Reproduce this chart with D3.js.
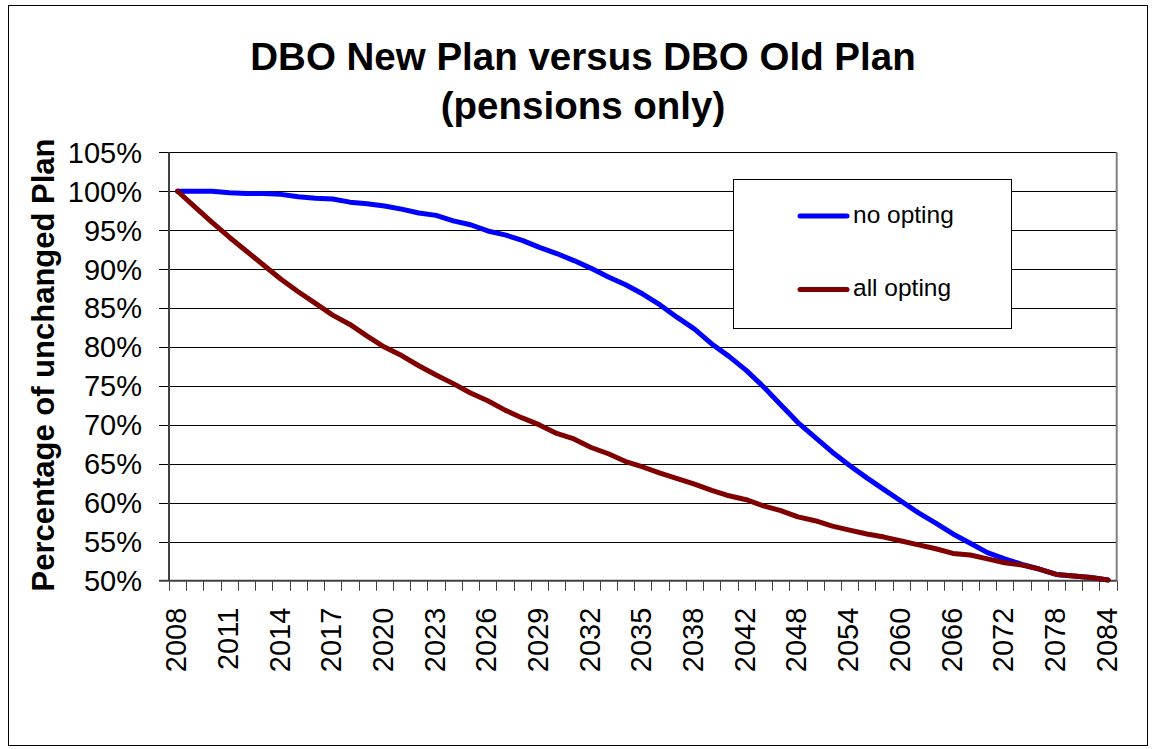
<!DOCTYPE html>
<html>
<head>
<meta charset="utf-8">
<script src="https://cdn.jsdelivr.net/npm/d3@7"></script>
<style>
  html, body { margin: 0; padding: 0; background: #fff; }
  svg { display: block; font-family: "Liberation Sans", Arial, sans-serif; }
</style>
</head>
<body>
<svg id="chart" width="1152" height="749"></svg>
<script>
// Years on the category axis: annual to 2040, then every second year to 2084
const years = [
  2008, 2009, 2010, 2011, 2012, 2013, 2014, 2015, 2016, 2017, 2018,
  2019, 2020, 2021, 2022, 2023, 2024, 2025, 2026, 2027, 2028, 2029,
  2030, 2031, 2032, 2033, 2034, 2035, 2036, 2037, 2038, 2039, 2040,
  2042, 2044, 2046, 2048, 2050, 2052, 2054, 2056, 2058, 2060, 2062,
  2064, 2066, 2068, 2070, 2072, 2074, 2076, 2078, 2080, 2082, 2084
];

// DBO of the new plan as % of the unchanged plan
const noOpting = [
  100.0, 100.0, 100.0, 99.8, 99.7, 99.7, 99.6, 99.3, 99.1, 99.0, 98.6,
  98.4, 98.1, 97.7, 97.2, 96.9, 96.2, 95.7, 94.9, 94.4, 93.7, 92.8,
  92.0, 91.1, 90.1, 89.0, 88.0, 86.8, 85.4, 83.8, 82.3, 80.4, 78.8,
  77.0, 74.9, 72.6, 70.3, 68.4, 66.5, 64.8, 63.2, 61.7, 60.2, 58.7,
  57.4, 56.0, 54.8, 53.6, 52.8, 52.1, 51.5, 50.8, 50.6, 50.4, 50.1
];

const allOpting = [
  100.0, 98.0, 96.0, 94.1, 92.3, 90.5, 88.7, 87.1, 85.6, 84.1, 82.9,
  81.4, 80.0, 78.9, 77.6, 76.4, 75.3, 74.1, 73.1, 71.9, 70.9, 70.0,
  68.9, 68.2, 67.1, 66.3, 65.3, 64.6, 63.8, 63.1, 62.4, 61.6, 60.9,
  60.4, 59.6, 59.0, 58.2, 57.7, 57.0, 56.5, 56.0, 55.6, 55.1, 54.6,
  54.1, 53.5, 53.3, 52.8, 52.3, 52.0, 51.5, 50.8, 50.6, 50.4, 50.1
];

const yTicks = [50, 55, 60, 65, 70, 75, 80, 85, 90, 95, 100, 105];

const seriesNames = ["no opting", "all opting"];
const seriesColors = ["#0000ff", "#800000"];

const svg = d3.select("#chart");

// chart area frame
svg.append("rect")
  .attr("x", 8.5).attr("y", 5.5)
  .attr("width", 1139).attr("height", 740)
  .attr("fill", "#fff").attr("stroke", "#000").attr("stroke-width", 1);

const plot = { left: 169, right: 1116.7, top: 152.3, bottom: 580.7 };

const x = d3.scaleBand()
  .domain(years)
  .range([plot.left, plot.right])
  .padding(0);

const y = d3.scaleLinear()
  .domain([50, 105])
  .range([plot.bottom, plot.top]);

const cx = d => x(d) + x.bandwidth() / 2;

// horizontal gridlines, extended left as tick marks
svg.append("g")
  .selectAll("line")
  .data(yTicks.filter(v => v !== 50))
  .join("line")
  .attr("x1", plot.left - 10).attr("x2", plot.right)
  .attr("y1", d => Math.round(y(d)) + 0.5).attr("y2", d => Math.round(y(d)) + 0.5)
  .attr("stroke", "#000").attr("stroke-width", 1);

// right border of the plot area
svg.append("line")
  .attr("x1", plot.right).attr("x2", plot.right)
  .attr("y1", plot.top).attr("y2", plot.bottom)
  .attr("stroke", "#808080").attr("stroke-width", 2);

// y axis line
svg.append("line")
  .attr("x1", plot.left).attr("x2", plot.left)
  .attr("y1", plot.top).attr("y2", plot.bottom)
  .attr("stroke", "#404040").attr("stroke-width", 2);

// x axis line with its tick at 50%
svg.append("line")
  .attr("x1", plot.left - 10).attr("x2", plot.right)
  .attr("y1", plot.bottom).attr("y2", plot.bottom)
  .attr("stroke", "#404040").attr("stroke-width", 2);

// category tick marks between bands
const tickPos = years.map(d => x(d)).concat([plot.right]);
svg.append("g")
  .selectAll("line")
  .data(tickPos)
  .join("line")
  .attr("x1", d => Math.round(d) + 0.5).attr("x2", d => Math.round(d) + 0.5)
  .attr("y1", plot.bottom).attr("y2", plot.bottom + 10)
  .attr("stroke", "#404040").attr("stroke-width", 1);

// y tick labels
svg.append("g")
  .selectAll("text")
  .data(yTicks)
  .join("text")
  .attr("x", 142)
  .attr("y", d => y(d) + 10.4)
  .attr("text-anchor", "end")
  .attr("font-size", 29)
  .attr("fill", "#000")
  .text(d => d + "%");

// x tick labels, every third category, rotated
svg.append("g")
  .selectAll("text")
  .data(years.filter((d, i) => i % 3 === 0))
  .join("text")
  .attr("transform", d => `translate(${cx(d) + 8.5},${plot.bottom + 27}) rotate(-90)`)
  .attr("text-anchor", "end")
  .attr("font-size", 29)
  .attr("fill", "#000")
  .text(d => d);

// series lines
const line = d3.line()
  .x((v, i) => cx(years[i]))
  .y(v => y(v));

[noOpting, allOpting].forEach((vals, k) => {
  svg.append("path")
    .datum(vals)
    .attr("d", line)
    .attr("fill", "none")
    .attr("stroke", seriesColors[k])
    .attr("stroke-width", 5)
    .attr("stroke-linejoin", "round")
    .attr("stroke-linecap", "round");
});

// title
const title = svg.append("text")
  .attr("x", 583)
  .attr("text-anchor", "middle")
  .attr("font-size", 38.5)
  .attr("font-weight", "bold")
  .attr("fill", "#000");
title.append("tspan").attr("x", 583).attr("y", 69.5).text("DBO New Plan versus DBO Old Plan");
title.append("tspan").attr("x", 583).attr("y", 119).text("(pensions only)");

// y axis title
svg.append("text")
  .attr("transform", "translate(53.5,365) rotate(-90)")
  .attr("text-anchor", "middle")
  .attr("font-size", 31)
  .attr("font-weight", "bold")
  .attr("fill", "#000")
  .text("Percentage of unchanged Plan");

// legend
const legend = svg.append("g");
legend.append("rect")
  .attr("x", 733.5).attr("y", 179.5)
  .attr("width", 278).attr("height", 149)
  .attr("fill", "#fff").attr("stroke", "#000").attr("stroke-width", 1);

const legendY = [216, 289.5];
seriesNames.forEach((name, k) => {
  legend.append("line")
    .attr("x1", 800).attr("x2", 847)
    .attr("y1", legendY[k]).attr("y2", legendY[k])
    .attr("stroke", seriesColors[k])
    .attr("stroke-width", 5)
    .attr("stroke-linecap", "round");
  legend.append("text")
    .attr("x", 853)
    .attr("y", legendY[k] + 6.5)
    .attr("font-size", 24.5)
    .attr("fill", "#000")
    .text(name);
});
</script>
</body>
</html>
